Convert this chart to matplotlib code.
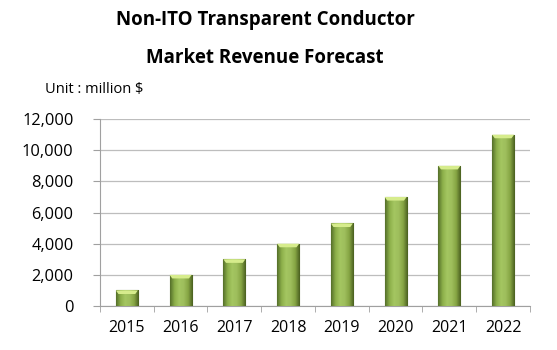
import numpy as np
import matplotlib
matplotlib.use('Agg')
import matplotlib.pyplot as plt
from matplotlib.colors import LinearSegmentedColormap

years   = ['2015', '2016', '2017', '2018', '2019', '2020', '2021', '2022']
revenue = [1000, 2000, 3000, 4000, 5300, 7000, 9000, 11000]
yticks  = [0, 2000, 4000, 6000, 8000, 10000, 12000]

plt.rcParams['font.family'] = ['Open Sans', 'DejaVu Sans']

fig = plt.figure(figsize=(5.57, 3.5), dpi=100)
ax = fig.add_axes([0.1795, 0.1257, 0.772, 0.534])

x = np.arange(len(years))
bars = ax.bar(x, revenue, width=0.41, color='#9BBB59',
              edgecolor='#4F6228', linewidth=0.8, zorder=3)

# horizontal bevel gradient clipped to each bar
bevel = LinearSegmentedColormap.from_list(
    'bevel', ['#55702A', '#8DB04A', '#A4C661', '#9EBE5C', '#86A544', '#4A6020'])
grad = np.linspace(0, 1, 64).reshape(1, -1)
for b in bars:
    x0, w, h = b.get_x(), b.get_width(), b.get_height()
    im = ax.imshow(grad, cmap=bevel, aspect='auto', zorder=3.5,
                   extent=[x0, x0 + w, 0, h])
    im.set_clip_path(b)
    # light top cap
    cap = 230
    ax.fill([x0 + w * 0.12, x0 + w * 0.88, x0 + w, x0],
            [h - cap, h - cap, h, h], color='#D6EC8C', zorder=4, lw=0)

ax.set_xlim(-0.5, len(years) - 0.5)
ax.set_ylim(0, 12000)
ax.set_yticks(yticks)
ax.set_yticklabels([f'{v:,}' for v in yticks], fontsize=11.8)
ax.set_xticks(x)
ax.set_xticklabels(years, fontsize=11.5)
ax.set_xticks(np.arange(-0.5, len(years)), minor=True)
ax.tick_params(axis='x', which='major', length=0, pad=10)
ax.tick_params(axis='x', which='minor', length=4, color='#A0A0A0')
ax.tick_params(axis='y', length=5, color='#A0A0A0', pad=14)

ax.grid(axis='y', color='#BDBDBD', linewidth=0.9, zorder=0)
ax.set_axisbelow(True)
for side in ['top', 'right']:
    ax.spines[side].set_visible(False)
for side in ['left', 'bottom']:
    ax.spines[side].set_color('#A0A0A0')

fig.text(0.476, 0.942, 'Non-ITO Transparent Conductor', ha='center', va='center',
         fontsize=13.5, fontweight='bold')
fig.text(0.476, 0.833, 'Market Revenue Forecast', ha='center', va='center',
         fontsize=13.5, fontweight='bold')
fig.text(0.081, 0.745, 'Unit : million $', ha='left', va='center', fontsize=10.5)

fig.savefig('out.png', dpi=100, facecolor='white')
